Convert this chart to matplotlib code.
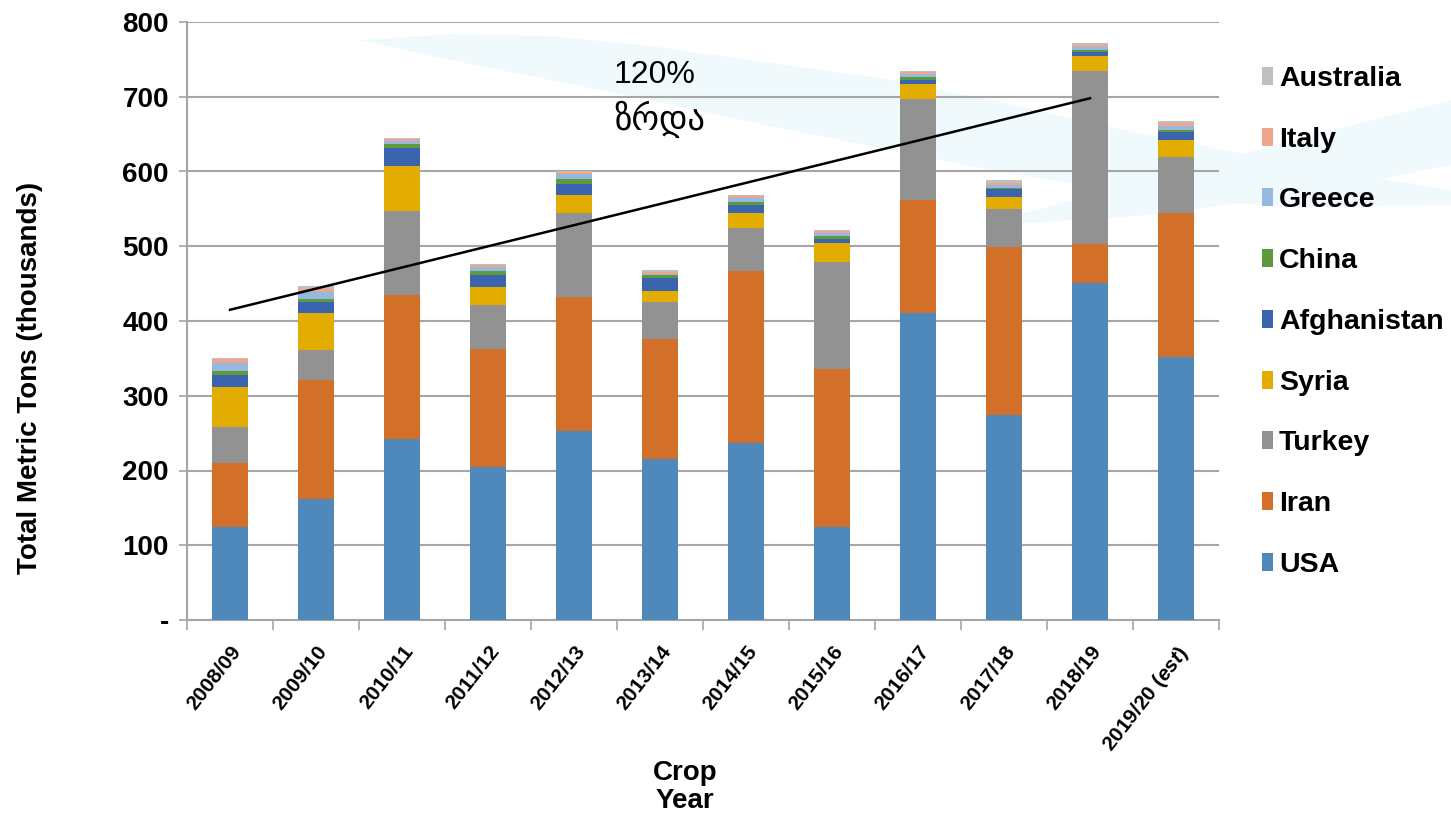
import numpy as np
import matplotlib
matplotlib.use("Agg")
import matplotlib.pyplot as plt
import matplotlib.transforms as mtransforms
from matplotlib.patches import Polygon

plt.rcParams['font.family'] = ['Liberation Sans', 'DejaVu Sans']
plt.rcParams['mathtext.fontset'] = 'custom'
plt.rcParams['mathtext.it'] = 'Liberation Sans:italic:bold'
plt.rcParams['mathtext.rm'] = 'Liberation Sans:bold'

# Crop years
years = ['2008/09', '2009/10', '2010/11', '2011/12', '2012/13', '2013/14',
         '2014/15', '2015/16', '2016/17', '2017/18', '2018/19', '2019/20 $(est)$']

# Production by country (thousand metric tons)
usa         = [124, 162, 242, 205, 253, 215, 237, 124, 411, 274, 451, 352]
iran        = [86, 159, 193, 157, 179, 161, 230, 212, 151, 225, 52, 192]
turkey      = [48, 40, 112, 59, 112, 49, 58, 143, 135, 51, 231, 75]
syria       = [54, 50, 60, 24, 24, 15, 19, 25, 20, 16, 21, 23]
afghanistan = [16, 14, 24, 16, 15, 17, 11, 6, 5, 11, 5, 11]
china       = [5, 5, 6, 6, 7, 4, 4, 4, 4, 1, 2, 3]
greece      = [11, 9, 4, 5, 7, 2, 6, 4, 4, 4, 4, 5]
italy       = [5, 4, 2, 3, 3, 3, 2, 3, 3, 2, 3, 4]
australia   = [1, 4, 2, 1, 1, 2, 1, 1, 2, 4, 3, 3]

series = [('USA', usa, '#4f89bc'), ('Iran', iran, '#d2702a'),
          ('Turkey', turkey, '#929292'), ('Syria', syria, '#e2ac00'),
          ('Afghanistan', afghanistan, '#3a64ae'), ('China', china, '#5e9a3c'),
          ('Greece', greece, '#95b9e0'), ('Italy', italy, '#f0a58a'),
          ('Australia', australia, '#bfbfbf')]

# trend line endpoints (bar index, value)
trend_x = [0, 10]
trend_y = [415, 698]

fig = plt.figure(figsize=(14.51, 8.18), dpi=100)
ax = fig.add_axes([187/1451, 1 - 620/818, 1032/1451, 598/818])
ax.set_facecolor('none')

# faint decorative swoosh behind the chart (figure pixel coords)
W, H = 1451, 818
band1 = [(360, 40), (450, 34), (550, 36), (650, 46), (750, 60), (880, 78), (1000, 102),
         (1100, 125), (1210, 147), (1300, 165), (1451, 190),
         (1451, 205), (1300, 207), (1210, 202), (1100, 188), (1000, 172), (880, 148),
         (750, 122), (650, 100), (550, 80), (450, 60)]
band2 = [(990, 222), (1150, 180), (1300, 138), (1451, 100),
         (1451, 165), (1300, 195), (1150, 215), (1000, 225)]
for b in (band1, band2):
    fig.patches.append(Polygon([(x / W, 1 - y / H) for x, y in b], closed=True,
                               transform=fig.transFigure, facecolor='#f0fafc',
                               edgecolor='none', zorder=-10))

x = np.arange(len(years))
bottom = np.zeros(len(years))
handles = []
for name, vals, col in series:
    h = ax.bar(x, vals, 0.41, bottom=bottom, color=col, label=name, zorder=3)
    handles.append(h)
    bottom += np.array(vals)

ax.plot(trend_x, trend_y, color='black', lw=1.8, zorder=4)
ax.text(4.94, 729, '120%', fontsize=23, ha='center', va='center',
        family=['Liberation Sans', 'DejaVu Sans'], zorder=5)
ax.text(5.0, 670, 'ზრდა', fontsize=25, ha='center', va='center',
        family=['DejaVu Sans'], zorder=5)

ax.set_xlim(-0.5, len(years) - 0.5)
ax.set_ylim(0, 800)
ax.set_yticks(np.arange(0, 801, 100))
ax.set_yticklabels(['-'] + [str(v) for v in range(100, 801, 100)],
                   fontsize=20, fontweight='bold')
ax.yaxis.grid(True, color='#a6a6a6', lw=1.5, zorder=0)
ax.set_axisbelow(True)

ax.set_xticks(x)
ax.set_xticklabels(years, rotation=52, ha='right', rotation_mode='anchor',
                   fontsize=15, fontweight='bold')
shift = mtransforms.ScaledTranslation(-0.05, 0, fig.dpi_scale_trans)
for lab in ax.get_xticklabels():
    lab.set_transform(lab.get_transform() + shift)
ax.set_xticks(np.arange(-0.5, len(years)), minor=True)
ax.tick_params(axis='x', which='major', length=0, pad=16)
ax.tick_params(axis='x', which='minor', length=7, color='#a6a6a6', width=1.2)
ax.tick_params(axis='y', length=6, color='#a6a6a6', width=1.2, pad=7)

for s in ['top', 'right']:
    ax.spines[s].set_visible(False)
for s in ['left', 'bottom']:
    ax.spines[s].set_color('#a6a6a6')
    ax.spines[s].set_linewidth(1.5)

ax.set_ylabel('Total Metric Tons (thousands)', fontsize=20, fontweight='bold')
ax.yaxis.set_label_coords(-0.14, 0.405)
fig.text(685 / W, 1 - 787 / H, 'Crop\nYear', fontsize=20, fontweight='bold',
         ha='center', va='center', linespacing=1.15)

leg = fig.legend(handles[::-1], [s[0] for s in series][::-1],
                 loc='upper left', bbox_to_anchor=(1262 / W, 1 - 66 / H),
                 frameon=False, fontsize=20.5, labelspacing=1.22,
                 borderaxespad=0, borderpad=0,
                 handlelength=0.4, handleheight=0.6, handletextpad=0.2)
for t in leg.get_texts():
    t.set_fontweight('bold')

fig.savefig('out.png', dpi=100)
